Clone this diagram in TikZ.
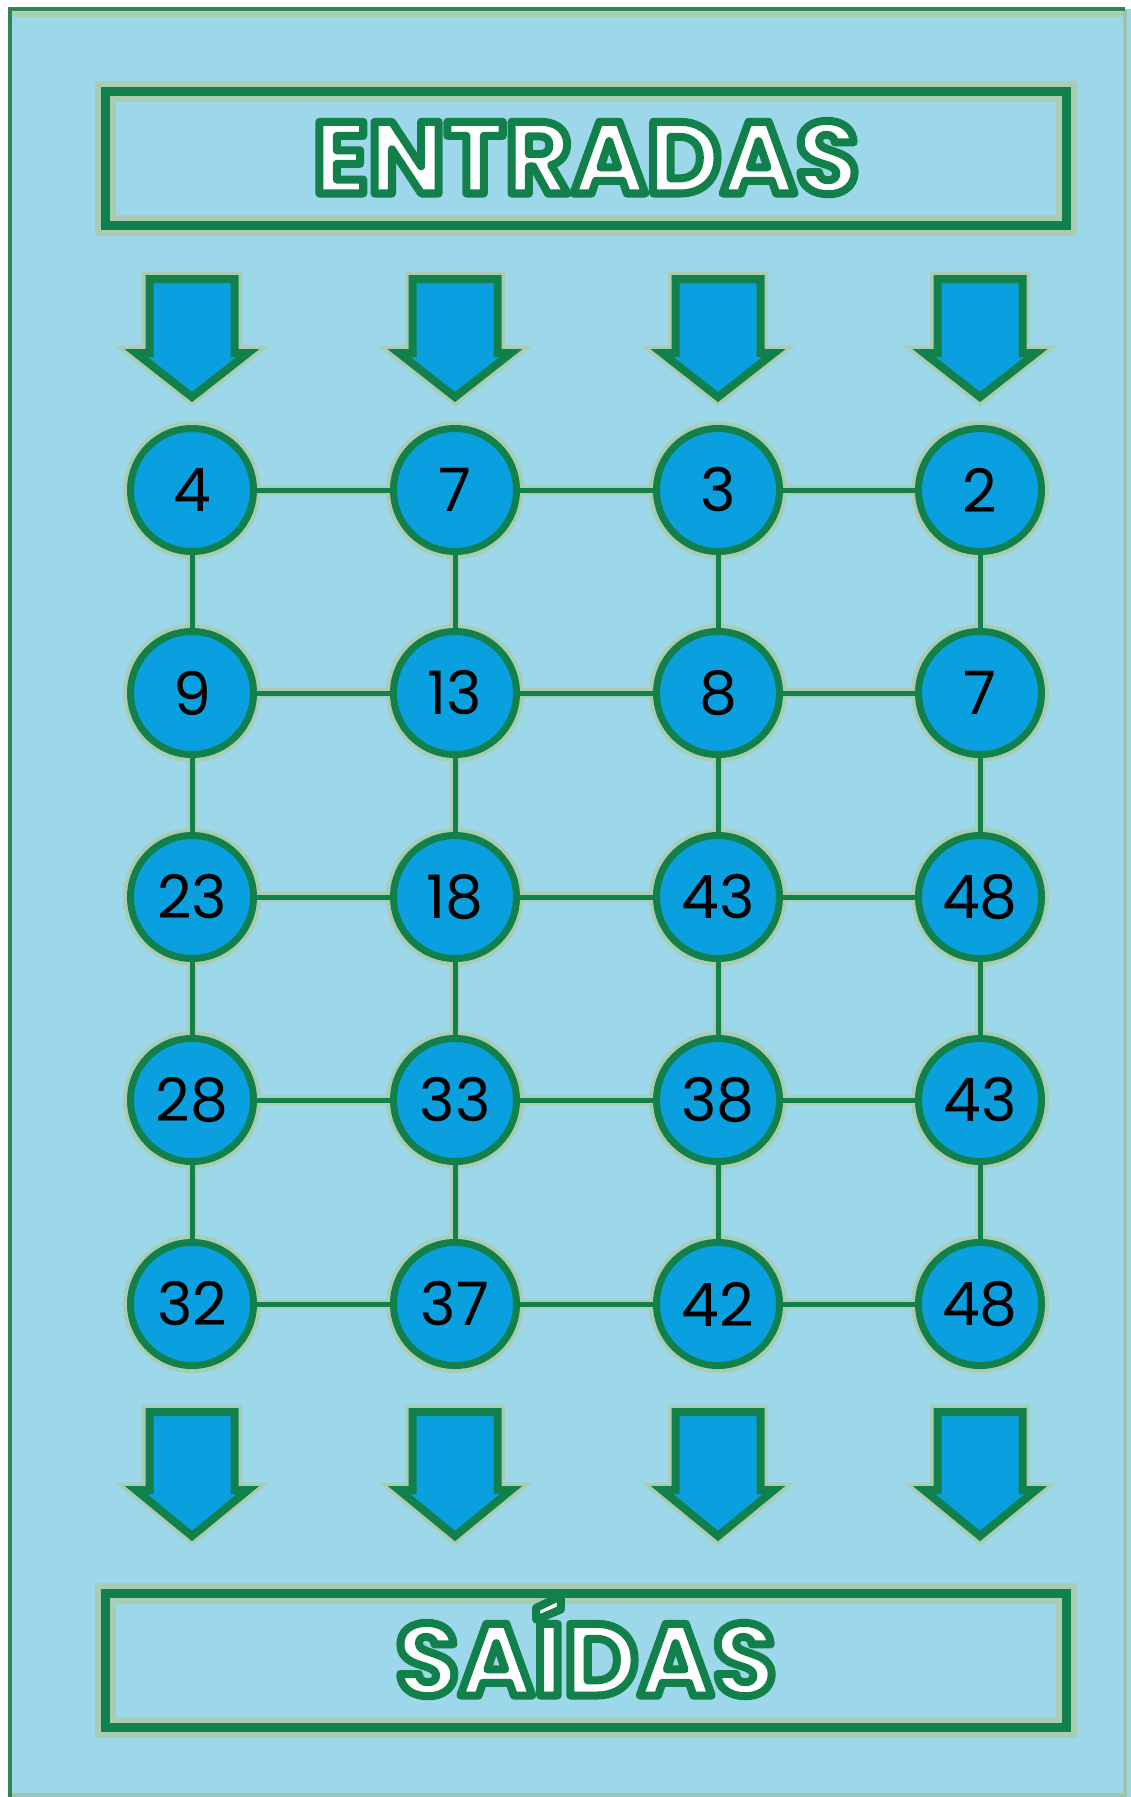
\documentclass[tikz,border=0pt]{standalone}
\usepackage{fontspec}
\setmainfont{Poppins}
\newfontfamily\titlefont{Poppins}
\definecolor{bgblue}{HTML}{9CD8E9}
\definecolor{dgreen}{HTML}{12804A}
\definecolor{ballblue}{HTML}{0AA0E0}
\definecolor{halo}{HTML}{A9CDB3}
\definecolor{framedark}{HTML}{2F8458}
\definecolor{framelight}{HTML}{9EC3AE}
\newcommand{\outlinedtext}[1]{\special{pdf:literal direct 2 Tr 8 w 1 j 0.07 0.50 0.29 RG 1 1 1 rg}#1\special{pdf:literal direct 0 Tr}}
\begin{document}
\begin{tikzpicture}[x=1pt,y=-1pt,
  ball/.style={circle, draw=dgreen, line width=7pt, fill=ballblue, minimum size=123pt,
    inner sep=0pt, font=\fontsize{60}{60}\selectfont, text=black,
    preaction={draw=halo, line width=15pt}},
  link/.style={draw=dgreen, line width=5pt, preaction={draw=halo, line width=10pt}},
  bigarrow/.style={draw=dgreen, line width=8pt, fill=ballblue, line join=miter,
    preaction={draw=halo, line width=15pt}},
  titlebox/.style={draw=dgreen, line width=9pt, minimum width=961pt, minimum height=134pt,
    inner sep=0pt, text height=71pt, text depth=0pt,
    preaction={draw=halo, line width=21pt},
    font=\titlefont\bfseries\fontsize{102}{102}\selectfont}]
\useasboundingbox (0,0) rectangle (1131,1797);
\fill[white] (0,0) rectangle (1131,1797);
\fill[bgblue] (9,9) rectangle (1131,1797);
\draw[framelight, line width=4pt] (9,1795) -- (1125,1795) -- (1125,9);
\draw[halo, line width=5pt] (11,14) -- (1123,14);
\draw[framedark, line width=4pt] (9.5,1797) -- (9.5,9) -- (1125,9);

% title boxes
\node[titlebox] (entradas) at (586,158) {\outlinedtext{ENTRADAS}};
\node[titlebox] (saidas) at (586,1660) {\outlinedtext{SAÍDAS}};

% arrows
\foreach \cx in {192,455,718,980}{
  \draw[bigarrow] (\cx-42.5,279) -- (\cx+42.5,279) -- (\cx+42.5,353) -- (\cx+56,353)
    -- (\cx,397) -- (\cx-56,353) -- (\cx-42.5,353) -- cycle;
  \draw[bigarrow] (\cx-42.5,1412) -- (\cx+42.5,1412) -- (\cx+42.5,1490) -- (\cx+56,1490)
    -- (\cx,1536) -- (\cx-56,1490) -- (\cx-42.5,1490) -- cycle;
}

% grid of numbers
\node[ball] (n11) at (192,490) {4};
\node[ball] (n12) at (455,490) {7};
\node[ball] (n13) at (718,490) {3};
\node[ball] (n14) at (980,490) {2};
\node[ball] (n21) at (192,693) {9};
\node[ball] (n22) at (455,693) {13};
\node[ball] (n23) at (718,693) {8};
\node[ball] (n24) at (980,693) {7};
\node[ball] (n31) at (192,897) {23};
\node[ball] (n32) at (455,897) {18};
\node[ball] (n33) at (718,897) {43};
\node[ball] (n34) at (980,897) {48};
\node[ball] (n41) at (192,1100) {28};
\node[ball] (n42) at (455,1100) {33};
\node[ball] (n43) at (718,1100) {38};
\node[ball] (n44) at (980,1100) {43};
\node[ball] (n51) at (192,1304) {32};
\node[ball] (n52) at (455,1304) {37};
\node[ball] (n53) at (718,1304) {42};
\node[ball] (n54) at (980,1304) {48};

% connectors
\foreach \r in {1,...,5}{
  \foreach \c in {1,2,3}{
    \pgfmathtruncatemacro\cn{\c+1}
    \draw[link] (n\r\c) -- (n\r\cn);
  }
}
\foreach \r in {1,...,4}{
  \foreach \c in {1,...,4}{
    \pgfmathtruncatemacro\rn{\r+1}
    \draw[link] (n\r\c) -- (n\rn\c);
  }
}
\end{tikzpicture}
\end{document}
